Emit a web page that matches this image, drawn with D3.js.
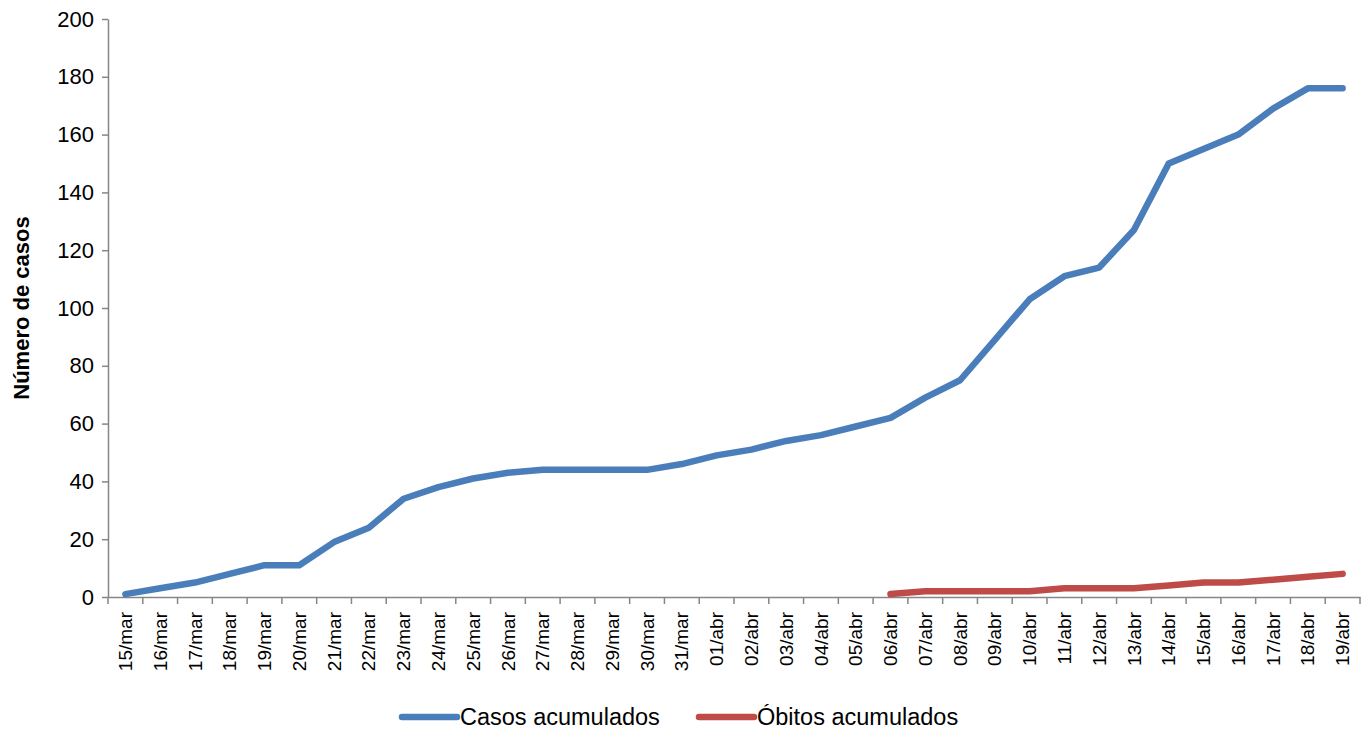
<!DOCTYPE html>
<html>
<head>
<meta charset="utf-8">
<script src="https://cdn.jsdelivr.net/npm/d3@7"></script>
<style>
  html, body { margin: 0; padding: 0; background: #fff; }
  svg { display: block; font-family: "Liberation Sans", Arial, sans-serif; }
</style>
</head>
<body>
<svg id="chart" width="1368" height="731"></svg>
<script>
const categories = ["15/mar","16/mar","17/mar","18/mar","19/mar","20/mar","21/mar","22/mar","23/mar","24/mar","25/mar","26/mar","27/mar","28/mar","29/mar","30/mar","31/mar","01/abr","02/abr","03/abr","04/abr","05/abr","06/abr","07/abr","08/abr","09/abr","10/abr","11/abr","12/abr","13/abr","14/abr","15/abr","16/abr","17/abr","18/abr","19/abr"];
const casos = [1,3,5,8,11,11,19,24,34,38,41,43,44,44,44,44,46,49,51,54,56,59,62,69,75,89,103,111,114,127,150,155,160,169,176,176];
const obitos = [null,null,null,null,null,null,null,null,null,null,null,null,null,null,null,null,null,null,null,null,null,null,1,2,2,2,2,3,3,3,4,5,5,6,7,8];
const yTicks = [0,20,40,60,80,100,120,140,160,180,200];
const seriesNames = ["Casos acumulados","Óbitos acumulados"];
const seriesColors = ["#4a7ebb","#be4b48"];

const svg = d3.select("#chart");
const mLeft = 108, mRight = 1360, mTop = 19, mBottom = 597;
const axisColor = "#868686";

const x = d3.scaleBand().domain(categories).range([mLeft, mRight]).padding(0);
const y = d3.scaleLinear().domain([0, 200]).range([mBottom, mTop]);

// Y axis
const yAxis = svg.append("g").attr("transform", `translate(${mLeft},0)`)
  .call(d3.axisLeft(y).tickValues(yTicks).tickSize(6).tickPadding(8).tickSizeOuter(0));
yAxis.select(".domain").attr("stroke", axisColor).attr("stroke-width", 1.5);
yAxis.selectAll(".tick line").attr("stroke", axisColor).attr("stroke-width", 1.5);
yAxis.selectAll(".tick text").attr("fill", "#000").style("font-size", "22px")
  .style("font-family", "'Liberation Sans', Arial, sans-serif");

// X axis
const xAxis = svg.append("g").attr("transform", `translate(0,${mBottom})`)
  .call(d3.axisBottom(x).tickSize(0).tickSizeOuter(0));
xAxis.select(".domain").attr("stroke", axisColor).attr("stroke-width", 1.5);
xAxis.selectAll(".tick text")
  .attr("fill", "#000")
  .style("font-size", "19px")
  .style("font-family", "'Liberation Sans', Arial, sans-serif")
  .attr("text-anchor", "end")
  .attr("transform", "rotate(-90)")
  .attr("x", -15)
  .attr("y", 0)
  .attr("dy", "0.35em");
// boundary ticks
const bounds = categories.map(c => x(c)).concat([mRight]);
xAxis.selectAll(".btick").data(bounds).enter().append("line")
  .attr("class", "btick")
  .attr("x1", d => d).attr("x2", d => d)
  .attr("y1", 0).attr("y2", 7)
  .attr("stroke", axisColor).attr("stroke-width", 1.5);

// Y title
svg.append("text")
  .attr("transform", `translate(29,${(mTop + mBottom) / 2}) rotate(-90)`)
  .attr("text-anchor", "middle")
  .style("font-size", "22px").style("font-weight", "bold")
  .text("Número de casos");

// Lines
const line = d3.line()
  .defined(d => d.v !== null)
  .x(d => x(d.c) + x.bandwidth() / 2)
  .y(d => y(d.v));

[casos, obitos].forEach((vals, i) => {
  const data = categories.map((c, j) => ({ c, v: vals[j] }));
  svg.append("path")
    .datum(data)
    .attr("fill", "none")
    .attr("stroke", seriesColors[i])
    .attr("stroke-width", 6.5)
    .attr("stroke-linecap", "round")
    .attr("stroke-linejoin", "round")
    .attr("d", line);
});

// Legend
const legendX = [402, 699];
seriesNames.forEach((name, i) => {
  const g = svg.append("g").attr("transform", `translate(${legendX[i]},717)`);
  g.append("line").attr("x1", 0).attr("x2", 55).attr("y1", 0).attr("y2", 0)
    .attr("stroke", seriesColors[i]).attr("stroke-width", 6.5).attr("stroke-linecap", "round");
  g.append("text").attr("x", 58).attr("y", 0).attr("dy", "0.36em")
    .style("font-size", "23.5px").text(name);
});
</script>
</body>
</html>
